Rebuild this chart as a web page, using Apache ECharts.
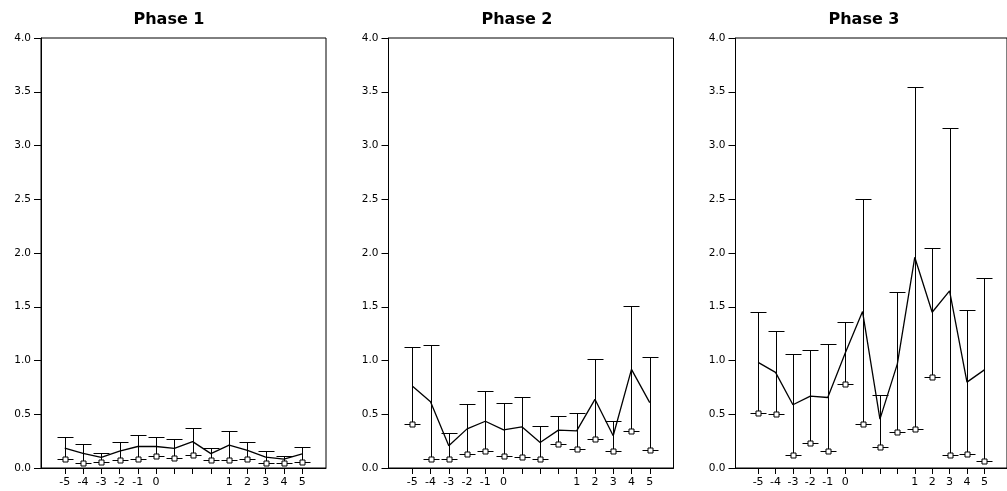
<!DOCTYPE html>
<html>
<head>
<meta charset="utf-8">
<title>Phase 1–3</title>
<script src="https://cdn.jsdelivr.net/npm/echarts@6/dist/echarts.min.js"></script>
<style>
  html, body { margin: 0; padding: 0; background: #fff; }
  #chart { width: 1007px; height: 491px; }
</style>
</head>
<body>
<div id="chart"></div>
<script>
// Time points along the x axis (three unlabelled slots between 0 and 1)
const categories = ['-5', '-4', '-3', '-2', '-1', '0', '', '', '', '1', '2', '3', '4', '5'];
const phaseTitles = ['Phase 1', 'Phase 2', 'Phase 3'];
const yTicks = [0, 0.5, 1.0, 1.5, 2.0, 2.5, 3.0, 3.5, 4.0];

// Phase 1
const phase1Mean = [0.185, 0.135, 0.098, 0.156, 0.200, 0.200, 0.183, 0.245, 0.134, 0.213, 0.164, 0.102, 0.083, 0.131];
const phase1Low  = [0.084, 0.046, 0.058, 0.070, 0.082, 0.108, 0.090, 0.125, 0.075, 0.077, 0.085, 0.051, 0.048, 0.060];
const phase1High = [0.293, 0.222, 0.135, 0.242, 0.310, 0.288, 0.272, 0.368, 0.190, 0.342, 0.242, 0.156, 0.113, 0.195];

// Phase 2
const phase2Mean = [0.762, 0.617, 0.207, 0.364, 0.435, 0.355, 0.383, 0.238, 0.352, 0.346, 0.639, 0.300, 0.917, 0.608];
const phase2Low  = [0.410, 0.086, 0.086, 0.127, 0.154, 0.111, 0.105, 0.083, 0.222, 0.176, 0.269, 0.154, 0.340, 0.170];
const phase2High = [1.123, 1.142, 0.324, 0.596, 0.713, 0.602, 0.664, 0.389, 0.485, 0.515, 1.015, 0.435, 1.503, 1.031];

// Phase 3
const phase3Mean = [0.982, 0.889, 0.588, 0.669, 0.656, 1.068, 1.455, 0.455, 0.969, 1.960, 1.449, 1.647, 0.799, 0.913];
const phase3Low  = [0.509, 0.506, 0.117, 0.235, 0.155, 0.777, 0.412, 0.198, 0.337, 0.365, 0.851, 0.121, 0.133, 0.062];
const phase3High = [1.451, 1.272, 1.062, 1.099, 1.158, 1.362, 2.502, 0.681, 1.635, 3.548, 2.043, 3.167, 1.467, 1.765];

const phases = [
  { mean: phase1Mean, low: phase1Low, high: phase1High },
  { mean: phase2Mean, low: phase2Low, high: phase2High },
  { mean: phase3Mean, low: phase3Low, high: phase3High }
];

const FONT = 'DejaVu Sans';
const INK = '#000';
const gridLefts = [41, 388.5, 735.5];
const titleCenters = [169, 517, 864];
const tickIdx = categories.map((_, i) => i);

// Whisker from low to high with caps at both ends and a hollow square at the low end
function errorBarItem(params, api) {
  const x = api.value(0);
  const lo = api.coord([x, api.value(1)]);
  const hi = api.coord([x, api.value(2)]);
  const px = Math.round(lo[0]) + 0.5;
  const yLo = Math.round(lo[1]) + 0.5;
  const yHi = Math.round(hi[1]) + 0.5;
  const half = 8;
  const s = { stroke: INK, lineWidth: 1 };
  return {
    type: 'group',
    children: [
      { type: 'line', shape: { x1: px, y1: yHi, x2: px, y2: yLo }, style: s },
      { type: 'line', shape: { x1: px - half, y1: yHi, x2: px + half, y2: yHi }, style: s },
      { type: 'line', shape: { x1: px - half, y1: yLo, x2: px + half, y2: yLo }, style: s },
      { type: 'rect', shape: { x: px - 2.5, y: yLo - 2.5, width: 5, height: 5 },
        style: { fill: '#fff', stroke: INK, lineWidth: 1 } }
    ]
  };
}

const grids = [], xAxes = [], yAxes = [], series = [], graphics = [];

phases.forEach((p, k) => {
  grids.push({
    left: gridLefts[k], top: 38, width: 285, height: 430,
    show: true, borderColor: INK, borderWidth: 1, backgroundColor: 'transparent'
  });
  xAxes.push({
    type: 'value', gridIndex: k, min: -1.3, max: 14.3,
    splitLine: { show: false },
    axisLine: { show: true, onZero: false, lineStyle: { color: INK, width: 1 } },
    axisTick: { show: true, length: 6, customValues: tickIdx, lineStyle: { color: INK, width: 1 } },
    axisLabel: {
      show: true, customValues: tickIdx, margin: 9,
      formatter: v => categories[Math.round(v)] || '',
      color: INK, fontFamily: FONT, fontSize: 11
    }
  });
  yAxes.push({
    type: 'value', gridIndex: k, min: yTicks[0], max: yTicks[yTicks.length - 1], interval: 0.5,
    splitLine: { show: false },
    axisLine: { show: true, onZero: false, lineStyle: { color: INK, width: 1 } },
    axisTick: { show: true, length: 7, lineStyle: { color: INK, width: 1 } },
    axisLabel: {
      margin: 10, color: INK, fontFamily: FONT, fontSize: 10.5,
      formatter: v => v.toFixed(1)
    }
  });
  series.push({
    type: 'custom', xAxisIndex: k, yAxisIndex: k,
    renderItem: errorBarItem, clip: false, silent: true,
    encode: { x: 0, y: [1, 2] },
    data: p.low.map((lo, i) => [i, lo, p.high[i]]),
    z: 2
  });
  series.push({
    type: 'line', xAxisIndex: k, yAxisIndex: k,
    data: p.mean.map((m, i) => [i, m]),
    showSymbol: false, symbol: 'none', silent: true,
    lineStyle: { color: INK, width: 1.3 },
    z: 3
  });
  graphics.push({
    type: 'text', x: titleCenters[k], y: 20,
    style: {
      text: phaseTitles[k], fill: INK, font: 'bold 16px "DejaVu Sans"',
      align: 'center', verticalAlign: 'middle'
    }
  });
});

const chart = echarts.init(document.getElementById('chart'), null, { renderer: 'canvas' });
chart.setOption({
  animation: false,
  backgroundColor: '#fff',
  grid: grids,
  xAxis: xAxes,
  yAxis: yAxes,
  series: series,
  graphic: graphics
});
</script>
</body>
</html>
